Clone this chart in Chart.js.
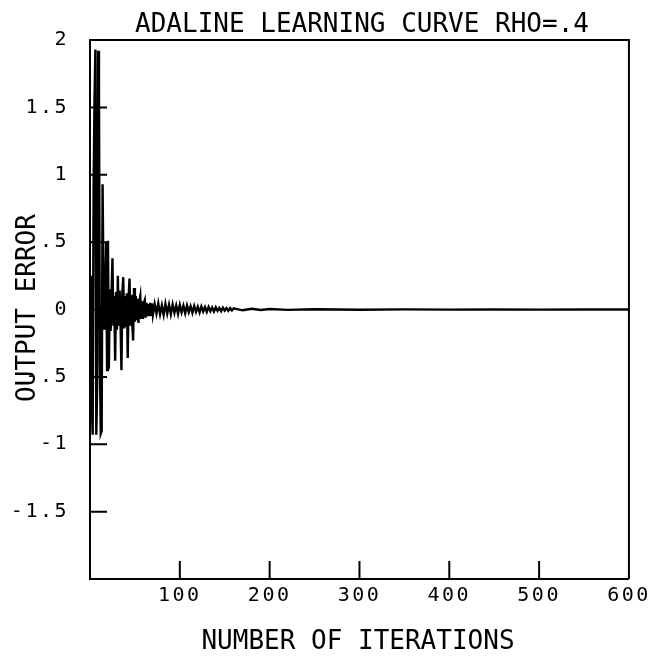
<!DOCTYPE html>
<html>
<head>
<meta charset="utf-8">
<script src="https://cdn.jsdelivr.net/npm/chart.js@4/dist/chart.umd.min.js"></script>
<style>
  html, body { margin: 0; padding: 0; background: #fff; }
  #wrap { width: 652px; height: 656px; }
</style>
</head>
<body>
<div id="wrap"><canvas id="c" width="652" height="656"></canvas></div>
<script>
const chartTitle = 'ADALINE LEARNING CURVE RHO=.4';
const xAxisTitle = 'NUMBER OF ITERATIONS';
const yAxisTitle = 'OUTPUT ERROR';

const xTickLabels = ['', '100', '200', '300', '400', '500', '600'];
const yTickLabels = ['', '-1.5', '-1', '-.5', '0', '.5', '1', '1.5', '2'];

const iterations = [
  1, 2, 3, 4, 5, 6, 7, 8, 9, 10,
  11, 12, 13, 14, 15, 16, 17, 18, 19, 20,
  21, 22, 23, 24, 25, 26, 27, 28, 29, 30,
  31, 32, 33, 34, 35, 36, 37, 38, 39, 40,
  41, 42, 43, 44, 45, 46, 47, 48, 49, 50,
  51, 52, 53, 54, 55, 56, 57, 58, 59, 60,
  61, 62, 63, 64, 65, 66, 67, 68, 69, 70,
  72, 74, 76, 78, 80, 82, 84, 86, 88, 90,
  92, 94, 96, 98, 100, 102, 104, 106, 108, 110,
  112, 114, 116, 118, 120, 122, 124, 126, 128, 130,
  132, 134, 136, 138, 140, 142, 144, 146, 148, 150,
  152, 154, 156, 158, 160,
  170, 180, 190, 200, 220, 250, 300, 350, 400, 450, 500, 550, 600
];

const outputError = [
  0.25, -0.70, -0.93, 0.90, 1.55, 1.93, -0.93, -0.55, 1.92, 1.60,
  -0.40, -0.92, -0.90, 0.93, 0.20, -0.15, 0.12, 0.50, -0.45, 0.51,
  -0.44, 0.15, -0.16, 0.12, 0.38, -0.12, 0.10, -0.38, 0.13, -0.15,
  0.25, -0.12, 0.14, -0.10, -0.45, 0.12, 0.24, -0.14, 0.10, -0.13,
  0.12, -0.36, 0.09, 0.23, -0.12, 0.11, -0.10, -0.23, 0.16, -0.09,
  0.10, -0.08, 0.08, -0.10, 0.06, 0.10, -0.07, 0.06, -0.07, 0.05,
  0.07, -0.06, 0.05, -0.05, 0.04, -0.05, 0.05, -0.04, 0.045, -0.04,
  0.04, -0.03, 0.045, -0.035, 0.03, -0.04, 0.042, -0.03, 0.035, -0.035,
  0.038, -0.025, 0.03, -0.032, 0.034, -0.022, 0.028, -0.028, 0.03, -0.02,
  0.024, -0.025, 0.026, -0.018, 0.02, -0.022, 0.022, -0.015, 0.018, -0.018,
  0.019, -0.012, 0.015, -0.015, 0.016, -0.01, 0.012, -0.012, 0.013, -0.008,
  0.01, -0.01, 0.01, -0.007, 0.008,
  -0.006, 0.005, -0.004, 0.004, -0.003, 0.002, -0.002, 0.001, -0.001, 0, -0.001, 0, 0
];

const points = iterations.map((x, i) => ({ x: x, y: outputError[i] }));

const MONO = '"DejaVu Sans Mono", "Liberation Mono", monospace';

const framePlugin = {
  id: 'frame',
  beforeDraw(chart) {
    chart.ctx.letterSpacing = '2.5px';
  },
  afterDraw(chart) {
    const ctx = chart.ctx;
    const a = chart.chartArea;
    const xs = chart.scales.x;
    const ys = chart.scales.y;
    ctx.save();
    ctx.strokeStyle = '#000';
    ctx.lineWidth = 2;
    // top and right border
    ctx.beginPath();
    ctx.moveTo(a.left, a.top);
    ctx.lineTo(a.right, a.top);
    ctx.lineTo(a.right, a.bottom);
    ctx.stroke();
    // inward tick marks
    ctx.beginPath();
    ys.ticks.forEach(t => {
      if (t.value > -2 && t.value < 2) {
        const py = ys.getPixelForValue(t.value);
        ctx.moveTo(a.left, py);
        ctx.lineTo(a.left + 17, py);
      }
    });
    xs.ticks.forEach(t => {
      if (t.value > 0 && t.value < 600) {
        const px = xs.getPixelForValue(t.value);
        ctx.moveTo(px, a.bottom);
        ctx.lineTo(px, a.bottom - 18);
      }
    });
    ctx.stroke();

    // titles
    ctx.letterSpacing = '0px';
    ctx.fillStyle = '#000';
    ctx.textAlign = 'center';
    ctx.textBaseline = 'middle';
    ctx.font = '26px ' + MONO;
    ctx.fillText(chartTitle, 362, 25);
    ctx.fillText(xAxisTitle, 358, 642);
    ctx.translate(28, 308);
    ctx.rotate(-Math.PI / 2);
    ctx.fillText(yAxisTitle, 0, 0);
    ctx.restore();
  }
};

new Chart(document.getElementById('c'), {
  type: 'line',
  data: {
    datasets: [{
      data: points,
      borderColor: '#000',
      borderWidth: 2.4,
      pointRadius: 0,
      tension: 0,
      fill: false
    }]
  },
  options: {
    responsive: false,
    animation: false,
    devicePixelRatio: 1,
    layout: { padding: { left: 0, right: 22, top: 40, bottom: 0 } },
    plugins: { legend: { display: false }, tooltip: { enabled: false }, title: { display: false } },
    scales: {
      x: {
        type: 'linear',
        min: 0,
        max: 600,
        afterFit(s) { s.height = 77; },
        grid: { display: false, drawTicks: false },
        border: { display: true, color: '#000', width: 2 },
        ticks: {
          stepSize: 100,
          padding: 5,
          color: '#000',
          font: { family: MONO, size: 20 },
          maxRotation: 0,
          autoSkip: false,
          callback: (v, i) => xTickLabels[i]
        }
      },
      y: {
        type: 'linear',
        min: -2,
        max: 2,
        afterFit(s) { s.width = 90; },
        grid: { display: false, drawTicks: false },
        border: { display: true, color: '#000', width: 2 },
        ticks: {
          stepSize: 0.5,
          padding: 21,
          color: '#000',
          font: { family: MONO, size: 20 },
          autoSkip: false,
          callback: (v, i) => yTickLabels[i]
        }
      }
    }
  },
  plugins: [framePlugin]
});
</script>
</body>
</html>
